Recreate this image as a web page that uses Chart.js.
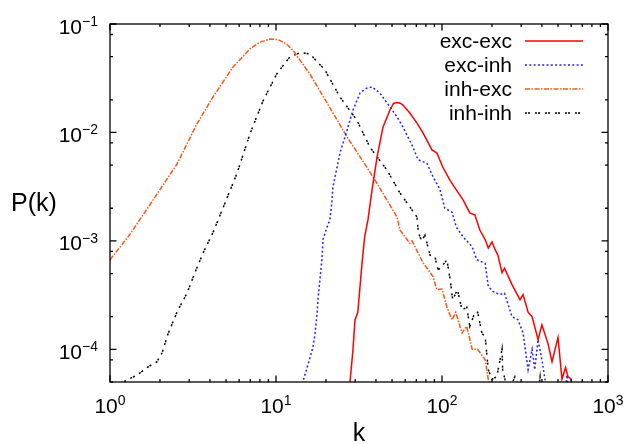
<!DOCTYPE html>
<html>
<head>
<meta charset="utf-8">
<script src="https://cdn.jsdelivr.net/npm/chart.js@4/dist/chart.umd.min.js"></script>
<style>
  html, body { margin: 0; padding: 0; background: #fff; }
  #wrap { width: 626px; height: 444px; }
</style>
</head>
<body>
<div id="wrap"><canvas id="grafico" width="626" height="444"></canvas></div>
<script>
// series names
const seriesNames = ["exc-exc", "exc-inh", "inh-exc", "inh-inh"];

// exc-exc (red)
const kExcExc = [27.6, 27.9, 29.1, 29.9, 31.1, 33, 34.2, 35.8, 37.9, 40.6, 44.1, 48.6, 51, 53.6, 56, 58.2, 64, 70.7, 76.8, 87,
  93, 101, 112, 122, 134, 147, 158, 169, 182, 190, 200, 209, 217, 230, 238, 264, 295, 308, 330, 349,
  379, 400, 435, 460, 500, 528, 555, 574, 600, 612];
const pExcExc = [4e-5, 5e-5, 1e-4, 1.87e-4, 2.2e-4, 6.3e-4, 1.09e-3, 1.56e-3, 2.95e-3, 5.9e-3, 0.0112, 0.0161, 0.0185, 0.0189, 0.0186, 0.0179, 0.0151, 0.0122, 0.0099, 6.9e-3,
  6.5e-3, 4.8e-3, 3.6e-3, 2.95e-3, 2.39e-3, 1.81e-3, 1.73e-3, 1.26e-3, 1.03e-3, 8.6e-4, 9.8e-4, 8.3e-4, 7.4e-4, 5.1e-4, 5.6e-4, 3.95e-4, 2.87e-4, 3.2e-4, 2.2e-4, 2.0e-4,
  1.23e-4, 1.68e-4, 1.13e-4, 7.7e-5, 1.29e-4, 5.3e-5, 6.8e-5, 5.6e-5, 5.3e-5, 4e-5];

// exc-inh (blue)
const kExcInh = [14.2, 14.5, 16, 16.7, 17.2, 17.7, 17.9, 18.4, 18.9, 19.2, 20.3, 21.1, 21.7, 22, 24.3, 26.8, 29.1, 32.1, 35, 37.9,
  42.2, 48.6, 53.6, 58.2, 66.9, 71.7, 81.1, 88.3, 97, 104, 115, 122, 134, 152, 162, 174, 182, 190, 204, 223,
  238, 264, 287, 308, 330, 349, 362, 379, 400, 417, 430, 555, 566, 578];
const pExcInh = [4e-5, 5e-5, 8.3e-5, 1.05e-4, 1.41e-4, 2.2e-4, 2.87e-4, 4.4e-4, 6.7e-4, 1.03e-3, 1.34e-3, 1.56e-3, 2.24e-3, 3.1e-3, 6.5e-3, 0.0105, 0.0161, 0.0231, 0.0255, 0.0263,
  0.0231, 0.0172, 0.0139, 0.0112, 7.3e-3, 5.6e-3, 5.2e-3, 3.9e-3, 3.0e-3, 2.0e-3, 1.84e-3, 1.34e-3, 1.09e-3, 8.8e-4, 6.7e-4, 6.4e-4, 6.2e-4, 3.8e-4, 3.4e-4, 3.2e-4,
  3.3e-4, 2.0e-4, 1.87e-4, 1.41e-4, 6.5e-5, 1e-4, 6.5e-5, 1.23e-4, 8e-5, 5.3e-5, 4e-5, 4e-5, 5.8e-5, 4e-5];

// inh-exc (orange)
const kInhExc = [1, 1.32, 1.82, 2.53, 3.34, 4.17, 5.5, 6.97, 8.0, 9.2, 10.3, 11.6, 12.8, 14, 16, 20.3, 26.8, 38.4, 53.6, 55.8,
  64, 66, 76.8, 88.3, 93, 100, 107, 115, 121, 132, 141, 152, 164, 182, 190, 200];
const pInhExc = [6.7e-4, 1.15e-3, 2.39e-3, 5.1e-3, 0.012, 0.0212, 0.040, 0.0589, 0.068, 0.0727, 0.0717, 0.0654, 0.056, 0.046, 0.0346, 0.0187, 0.0091, 0.0039, 0.00166, 0.00126,
  9.5e-4, 1.0e-3, 6.3e-4, 4.7e-4, 3.55e-4, 3.6e-4, 2.45e-4, 1.87e-4, 2.2e-4, 1.41e-4, 1.63e-4, 1.0e-4, 1.0e-4, 8e-5, 5.3e-5, 4e-5];

// inh-inh (black)
const kInhInh = [1.1, 1.23, 1.46, 1.67, 1.92, 2.06, 2.24, 2.53, 2.91, 3.25, 3.63, 4.17, 4.93, 5.82, 6.97, 8.35, 10.1, 12.1, 14, 16,
  19.7, 24.3, 30.7, 36.8, 46.6, 55.8, 70.7, 72, 75.5, 78.9, 84.7, 90.7, 94.8, 104, 107, 112, 116, 124, 132, 141,
  147, 158, 164, 174, 182, 190, 200, 214, 230, 232, 250, 275, 300, 380, 390, 400];
const pInhInh = [4e-5, 5.1e-5, 5.8e-5, 6.8e-5, 7.7e-5, 9.3e-5, 1.4e-4, 2.2e-4, 3.3e-4, 5.1e-4, 7.7e-4, 1.19e-3, 2.24e-3, 4.2e-3, 9.7e-3, 0.0195, 0.0346, 0.0497, 0.0545, 0.053,
  0.0377, 0.0212, 0.013, 7.3e-3, 4.5e-3, 2.77e-3, 1.66e-3, 1.19e-3, 1.0e-3, 1.13e-3, 7.4e-4, 7.1e-4, 5.4e-4, 6.3e-4, 6.7e-4, 4.4e-4, 2.87e-4, 3.55e-4, 2.31e-4, 2.45e-4,
  1.63e-4, 2.2e-4, 2.2e-4, 1.41e-4, 1.3e-4, 6.5e-5, 5.3e-5, 5.6e-5, 1e-4, 6.5e-5, 4e-5, 5.6e-5, 4e-5, 4e-5, 5.6e-5, 4e-5];

// tick labels
const xTicks = [1, 10, 100, 1000];
const xTickExp = ["0", "1", "2", "3"];
const yTicks = [1e-1, 1e-2, 1e-3, 1e-4];
const yTickExp = ["\u22121", "\u22122", "\u22123", "\u22124"];
const yMinorMult = [2, 5, 8];

const FONT = "'Liberation Sans', Arial, Helvetica, sans-serif";

function pontos(ks, ps) {
    return ks.map((k, i) => ({ x: k, y: ps[i] }));
}

const estilos = [
    { color: "#ff0000", dash: [] },
    { color: "#2222ff", dash: [2, 2.3] },
    { color: "#ff5518", dash: [5, 1.5, 1.5, 1.5] },
    { color: "#000000", dash: [2, 1, 2, 5] }
];

const seriesDados = [
    pontos(kExcExc, pExcExc),
    pontos(kExcInh, pExcInh),
    pontos(kInhExc, pInhExc),
    pontos(kInhInh, pInhInh)
];

// frame, ticks, labels and legend in gnuplot style
const molduraPlugin = {
    id: "moldura",
    afterDatasetsDraw(chart) {
        const { ctx, chartArea: a, scales } = chart;
        const xs = scales.x, ys = scales.y;
        ctx.save();
        ctx.strokeStyle = "#000";
        ctx.lineWidth = 1.3;
        ctx.setLineDash([]);
        ctx.strokeRect(a.left, a.top, a.right - a.left, a.bottom - a.top);

        ctx.beginPath();
        // x ticks (bottom and top)
        for (let d = 1; d < 1000; d *= 10) {
            for (let m = 1; m <= 10; m++) {
                const v = d * m;
                if (v > 1000) continue;
                const px = xs.getPixelForValue(v);
                const len = (m === 1 || m === 10) ? 6.5 : 3;
                ctx.moveTo(px, a.bottom); ctx.lineTo(px, a.bottom - len);
                ctx.moveTo(px, a.top); ctx.lineTo(px, a.top + len);
            }
        }
        // y ticks (left and right)
        const yVals = [];
        yTicks.forEach(t => { yVals.push([t, 6.5]); yMinorMult.forEach(m => yVals.push([t * m / 10, 3])); });
        yVals.forEach(([v, len]) => {
            if (v < ys.min || v > ys.max) return;
            const py = ys.getPixelForValue(v);
            ctx.moveTo(a.left, py); ctx.lineTo(a.left + len, py);
            ctx.moveTo(a.right, py); ctx.lineTo(a.right - len, py);
        });
        ctx.stroke();

        ctx.fillStyle = "#000";
        ctx.textBaseline = "alphabetic";
        // x tick labels
        xTicks.forEach((t, i) => {
            const px = xs.getPixelForValue(t);
            ctx.font = "21px " + FONT;
            const wb = ctx.measureText("10").width;
            ctx.font = "14px " + FONT;
            const we = ctx.measureText(xTickExp[i]).width;
            const x0 = px - (wb + we) / 2;
            ctx.textAlign = "left";
            ctx.font = "21px " + FONT;
            ctx.fillText("10", x0, a.bottom + 31);
            ctx.font = "14px " + FONT;
            ctx.fillText(xTickExp[i], x0 + wb, a.bottom + 23);
        });
        // y tick labels
        yTicks.forEach((t, i) => {
            const py = ys.getPixelForValue(t);
            ctx.font = "14px " + FONT;
            const we = ctx.measureText(yTickExp[i]).width;
            const xr = a.left - 12;
            ctx.textAlign = "right";
            ctx.fillText(yTickExp[i], xr, py + 2);
            ctx.font = "21px " + FONT;
            ctx.fillText("10", xr - we, py + 9.5);
        });

        // axis titles
        ctx.font = "25px " + FONT;
        ctx.textAlign = "left";
        ctx.fillText("P(k)", 11, 211);
        ctx.textAlign = "center";
        ctx.fillText("k", (a.left + a.right) / 2, 441);

        // legend
        ctx.font = "21px " + FONT;
        chart.data.datasets.forEach((ds, i) => {
            const yRow = 41 + i * 24;
            ctx.textAlign = "right";
            ctx.fillStyle = "#000";
            ctx.fillText(ds.label, 512, yRow + 7);
            ctx.beginPath();
            ctx.strokeStyle = ds.borderColor;
            ctx.lineWidth = ds.borderWidth;
            ctx.setLineDash(ds.borderDash || []);
            ctx.moveTo(525, yRow);
            ctx.lineTo(583, yRow);
            ctx.stroke();
        });
        ctx.restore();
    }
};

const ctx = document.getElementById("grafico").getContext("2d");
new Chart(ctx, {
    type: "line",
    data: {
        datasets: seriesNames.map((nome, i) => ({
            label: nome,
            data: seriesDados[i],
            borderColor: estilos[i].color,
            borderDash: estilos[i].dash,
            borderWidth: 1.5,
            pointRadius: 0,
            fill: false,
            tension: 0
        }))
    },
    options: {
        responsive: false,
        animation: false,
        devicePixelRatio: 1,
        layout: { padding: { left: 110, right: 18, top: 24, bottom: 62 } },
        plugins: {
            legend: { display: false },
            tooltip: { enabled: false }
        },
        scales: {
            x: { type: "logarithmic", min: 1, max: 1000, display: false },
            y: { type: "logarithmic", min: 5e-5, max: 0.1, display: false }
        }
    },
    plugins: [molduraPlugin]
});
</script>
</body>
</html>
